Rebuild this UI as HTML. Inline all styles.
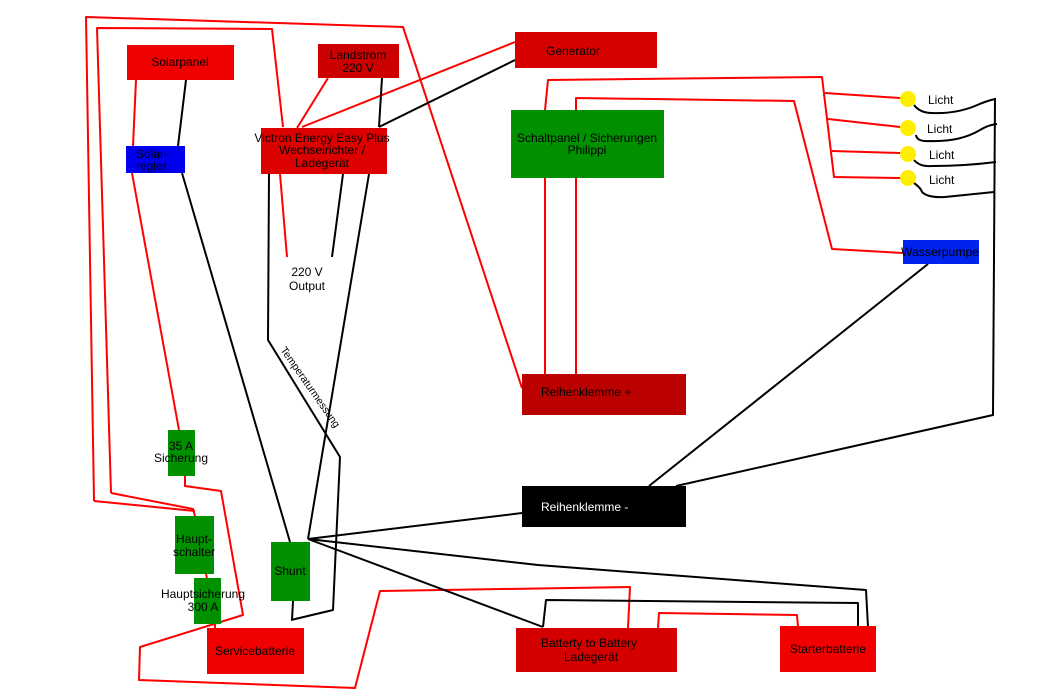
<!DOCTYPE html>
<html><head><meta charset="utf-8"><style>
html,body{margin:0;padding:0;background:#fff;}
svg{display:block;}
text{font-family:"Liberation Sans","DejaVu Sans",sans-serif;font-size:12px;fill:#000;}
</style></head><body>
<svg width="1050" height="700" viewBox="0 0 1050 700" xmlns="http://www.w3.org/2000/svg">
<g fill="none" stroke-width="2" stroke-linejoin="round">
<!-- red lines -->
<g stroke="#f00">
<polyline points="94,501 86,17 403,27 522,388"/>
<polyline points="94,501 195,511"/>
<polyline points="111,493 97,28 272,29 283,127"/>
<polyline points="111,493 193,509 195,516"/>
<line x1="136" y1="80" x2="133" y2="146"/>
<line x1="132" y1="173" x2="179" y2="430"/>
<polyline points="185,476 185,486 221,491 243,615 140,647 139,680 355,688 380,591 630,587 628,628"/>
<line x1="206" y1="574" x2="207" y2="578"/>
<line x1="215" y1="624" x2="215" y2="628"/>
<polyline points="658,628 659,613 797,615 798,627"/>
<line x1="328" y1="78" x2="297" y2="128"/>
<line x1="515" y1="42" x2="302" y2="127"/>
<line x1="280" y1="174" x2="287" y2="257"/>
<polyline points="545,110 548,80 822,77 834,177 900,178"/>
<line x1="825" y1="93" x2="900" y2="98"/>
<line x1="828" y1="119" x2="900" y2="127"/>
<line x1="832" y1="151" x2="900" y2="153"/>
<polyline points="576,110 576,98 794,101 832,249 903,253"/>
<line x1="545" y1="178" x2="545" y2="374"/>
<line x1="576" y1="178" x2="576" y2="374"/>
</g>
<!-- black lines -->
<g stroke="#000">
<line x1="382" y1="78" x2="379" y2="127"/>
<line x1="515" y1="60" x2="379" y2="127"/>
<polyline points="269,174 268,340 340,457 333,610 291,620"/>
<line x1="343" y1="174" x2="332" y2="257"/>
<line x1="369" y1="174" x2="308" y2="539"/>
<line x1="182" y1="173" x2="290" y2="542"/>
<line x1="186" y1="80" x2="178" y2="146"/>
<line x1="293" y1="601" x2="292" y2="620"/>
<line x1="308" y1="539" x2="522" y2="513"/>
<polyline points="308,539 538,565 866,590 868,627"/>
<line x1="308" y1="539" x2="543" y2="627"/>
<polyline points="543,627 546,600 858,603 858,627"/>
<line x1="649" y1="486" x2="928" y2="264"/>
<polyline points="676,486 993,415 995,98"/>
<path d="M914,105 Q920,113 932,113 Q955,114 975,106 Q986,101 995,99"/>
<path d="M916,135 Q917,142 930,141 Q960,142 980,130 Q988,125 997,124"/>
<path d="M914,160 Q920,167 932,166 Q965,166 996,162"/>
<path d="M914,183 Q921,188 922,192 Q928,198 945,197 Q975,194 994,192"/>
</g>
</g>
<!-- boxes -->
<rect x="127" y="45" width="107" height="35" fill="#f00000"/>
<rect x="318" y="44" width="81" height="34" fill="#cc0000"/>
<rect x="261" y="128" width="126" height="46" fill="#dd0000"/>
<rect x="126" y="146" width="59" height="27" fill="#0000ee"/>
<rect x="515" y="32" width="142" height="36" fill="#d60000"/>
<rect x="511" y="110" width="153" height="68" fill="#009000"/>
<rect x="903" y="240" width="76" height="24" fill="#0022ee"/>
<rect x="522" y="374" width="164" height="41" fill="#bb0000"/>
<rect x="522" y="486" width="164" height="41" fill="#000"/>
<rect x="168" y="430" width="27" height="46" fill="#009000"/>
<rect x="175" y="516" width="39" height="58" fill="#009000"/>
<rect x="194" y="578" width="27" height="46" fill="#009000"/>
<rect x="271" y="542" width="39" height="59" fill="#009000"/>
<rect x="207" y="628" width="97" height="46" fill="#f00000"/>
<rect x="516" y="628" width="161" height="44" fill="#d40000"/>
<rect x="780" y="626" width="96" height="46" fill="#f00000"/>
<g fill="#ffee00">
<circle cx="908" cy="99" r="8"/>
<circle cx="908" cy="128" r="8"/>
<circle cx="908" cy="154" r="8"/>
<circle cx="908" cy="178" r="8"/>
</g>
<!-- text -->
<text x="180" y="66" text-anchor="middle">Solarpanel</text>
<text x="358" y="59" text-anchor="middle">Landstrom</text>
<text x="358" y="72" text-anchor="middle">220 V</text>
<text x="322" y="142" text-anchor="middle">Victron Energy Easy Plus</text>
<text x="322" y="154" text-anchor="middle">Wechselrichter /</text>
<text x="322" y="167" text-anchor="middle">Ladegerät</text>
<text x="136" y="158">Solar-</text>
<text x="136" y="170">regler</text>
<text x="546" y="55">Generator</text>
<text x="587" y="142" text-anchor="middle">Schaltpanel / Sicherungen</text>
<text x="587" y="154" text-anchor="middle">Philippi</text>
<text x="901" y="256" textLength="78" lengthAdjust="spacingAndGlyphs">Wasserpumpe</text>
<text x="928" y="104">Licht</text>
<text x="927" y="133">Licht</text>
<text x="929" y="159">Licht</text>
<text x="929" y="184">Licht</text>
<text x="307" y="276" text-anchor="middle">220 V</text>
<text x="307" y="290" text-anchor="middle">Output</text>
<text x="541" y="396">Reihenklemme +</text>
<text x="541" y="511" style="fill:#fff">Reihenklemme -</text>
<text x="181" y="450" text-anchor="middle">35 A</text>
<text x="181" y="462" text-anchor="middle">Sicherung</text>
<text x="194" y="543" text-anchor="middle">Haupt-</text>
<text x="194" y="556" text-anchor="middle">schalter</text>
<text x="203" y="598" text-anchor="middle">Hauptsicherung</text>
<text x="203" y="611" text-anchor="middle">300 A</text>
<text x="290" y="575" text-anchor="middle">Shunt</text>
<text x="255" y="655" text-anchor="middle">Servicebatterie</text>
<text x="589" y="647" text-anchor="middle">Batterty to Battery</text>
<text x="591" y="661" text-anchor="middle">Ladegerät</text>
<text x="828" y="653" text-anchor="middle">Starterbatterie</text>
<text x="280" y="350" transform="rotate(55 280 350)" style="font-size:10.5px">Temperaturmessung</text>
</svg>
</body></html>
